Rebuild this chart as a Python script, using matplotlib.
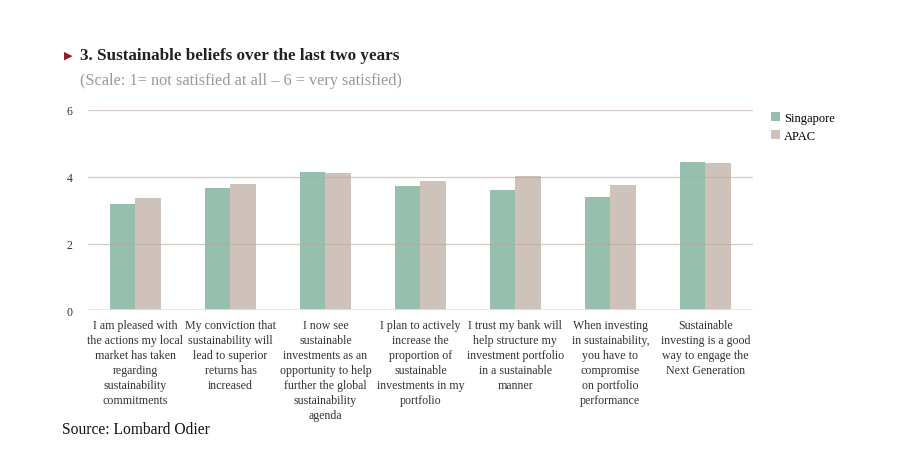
import matplotlib.pyplot as plt
import numpy as np

# données
categories = [
    "I am pleased with\nthe actions my local\nmarket has taken\nregarding\nsustainability\ncommitments",
    "My conviction that\nsustainability will\nlead to superior\nreturns has\nincreased",
    "I now see\nsustainable\ninvestments as an\nopportunity to help\nfurther the global\nsustainability\nagenda",
    "I plan to actively\nincrease the\nproportion of\nsustainable\ninvestments in my\nportfolio",
    "I trust my bank will\nhelp structure my\ninvestment portfolio\nin a sustainable\nmanner",
    "When investing\nin sustainability,\nyou have to\ncompromise\non portfolio\nperformance",
    "Sustainable\ninvesting is a good\nway to engage the\nNext Generation",
]
singapore = [3.19, 3.65, 4.13, 3.71, 3.59, 3.40, 4.44]
apac = [3.37, 3.77, 4.12, 3.87, 4.02, 3.76, 4.41]
yticks = [0, 2, 4, 6]

plt.rcParams['font.family'] = ['Liberation Serif', 'DejaVu Serif']

fig = plt.figure(figsize=(9.12, 4.56), dpi=100)
ax = fig.add_axes([0.0965, 0.317, 0.729, 0.44])

x = np.arange(len(categories))
w = 0.265
ax.bar(x - w/2, singapore, w, color='#96bfae', label='Singapore', zorder=1)
ax.bar(x + w/2, apac, w, color='#cfc2ba', label='APAC', zorder=1)

ax.set_xlim(-0.5, len(categories) - 0.5)
ax.set_ylim(0, 6)
ax.set_yticks(yticks)
ax.set_yticklabels([str(t) for t in yticks], fontsize=8.5, color='#333333')
for t in yticks[1:]:
    ax.axhline(t, color='#b8a89c', lw=0.9, alpha=0.6, zorder=2)
ax.axhline(0, color='#e2e2e2', lw=1.2, zorder=2)
for s in ax.spines.values():
    s.set_visible(False)
ax.tick_params(axis='y', length=0, pad=11)
ax.tick_params(axis='x', length=0)
ax.set_xticks([])

for xi, lab in zip(x, categories):
    ax.text(xi, -0.27, lab, ha='center', va='top', fontsize=8.6,
            color='#333333', linespacing=1.33)

leg = ax.legend(loc='upper left', bbox_to_anchor=(1.01, 1.045), frameon=False,
                fontsize=9, handlelength=0.7, handleheight=0.7,
                handletextpad=0.35, labelspacing=0.45)

fig.text(0.070, 0.879, "\u25B6", color='#8b1a2b', fontsize=8,
         family='DejaVu Sans', va='center')
fig.text(0.088, 0.878, "3. Sustainable beliefs over the last two years",
         fontsize=12.3, fontweight='bold', color='#222222', va='center')
fig.text(0.088, 0.822, "(Scale: 1= not satisfied at all \u2013 6 = very satisfied)",
         fontsize=11.7, color='#999999', va='center')
fig.text(0.068, 0.057, "Source: Lombard Odier", fontsize=11.2,
         color='#111111', va='center')

fig.savefig('out.png', dpi=100)
